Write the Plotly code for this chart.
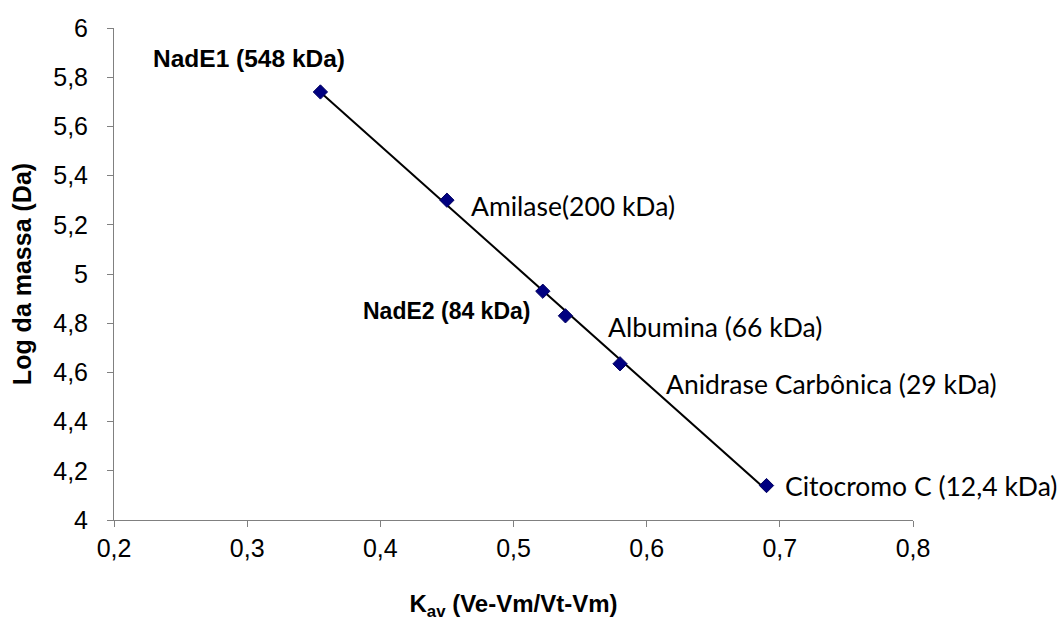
import plotly.graph_objects as go
import numpy as np

names = ["NadE1 (548 kDa)", "Amilase(200 kDa)", "NadE2 (84 kDa)", "Albumina (66 kDa)",
         "Anidrase Carbônica (29 kDa)", "Citocromo C (12,4 kDa)"]
kav = [0.355, 0.450, 0.522, 0.539, 0.580, 0.690]
logm = [5.74, 5.30, 4.93, 4.83, 4.635, 4.14]
bold = [True, False, True, False, False, False]
label_sizes = [24.5, 26.5, 23, 26.5, 26.5, 26.5]
x_ticks = [0.2, 0.3, 0.4, 0.5, 0.6, 0.7, 0.8]
x_tick_text = ["0,2", "0,3", "0,4", "0,5", "0,6", "0,7", "0,8"]
y_ticks = [4, 4.2, 4.4, 4.6, 4.8, 5, 5.2, 5.4, 5.6, 5.8, 6]
y_tick_text = ["4", "4,2", "4,4", "4,6", "4,8", "5", "5,2", "5,4", "5,6", "5,8", "6"]

# label offsets (pixels)
offsets = [(-71, 33, "center"), (22, -6, "left"), (-11, -20, "right"),
           (41, -11, "left"), (44, -20, "left"), (16, 0, "left")]

slope, intercept = np.polyfit(kav, logm, 1)
xl = np.array([min(kav), max(kav)])
yl = slope * xl + intercept

ARIAL = "Arial, Liberation Sans"

fig = go.Figure()
fig.add_trace(go.Scatter(x=xl, y=yl, mode="lines", line=dict(color="black", width=2),
                         hoverinfo="skip", showlegend=False))
fig.add_trace(go.Scatter(x=kav, y=logm, mode="markers",
                         marker=dict(symbol="diamond", size=11, color="#000080",
                                     line=dict(color="#000060", width=1)),
                         showlegend=False))

for n, xv, yv, b, sz, (dx, dy, anc) in zip(names, kav, logm, bold, label_sizes, offsets):
    if b:
        font = dict(family=ARIAL, size=sz, color="black")
        txt = "<b>" + n + "</b>"
    else:
        font = dict(family="Lato, Carlito, Calibri", size=sz, color="black")
        txt = n
    fig.add_annotation(x=xv, y=yv, text=txt, showarrow=False, xanchor=anc, yanchor="middle",
                       xshift=dx, yshift=dy, font=font)

axis_common = dict(showgrid=False, zeroline=False, showline=True, linecolor="#808080", linewidth=1,
                   ticks="outside", ticklen=6, tickcolor="#808080",
                   tickfont=dict(family=ARIAL, size=25, color="black"))

fig.update_layout(
    width=1061, height=632,
    margin=dict(l=114, r=148, t=28, b=112),
    plot_bgcolor="white", paper_bgcolor="white",
    xaxis=dict(range=[0.2, 0.8], tickvals=x_ticks, ticktext=x_tick_text, ticklabelstandoff=0,
               title=dict(text="<b>K<sub>av</sub> (Ve-Vm/Vt-Vm)</b>", standoff=34,
                          font=dict(family=ARIAL, size=24, color="black")),
               **axis_common),
    yaxis=dict(range=[4, 6], tickvals=y_ticks, ticktext=y_tick_text, ticklabelstandoff=14,
               title=dict(text="<b>Log da massa (Da)</b>", standoff=14,
                          font=dict(family=ARIAL, size=25, color="black")),
               **axis_common),
)

fig.write_html("out.html")
